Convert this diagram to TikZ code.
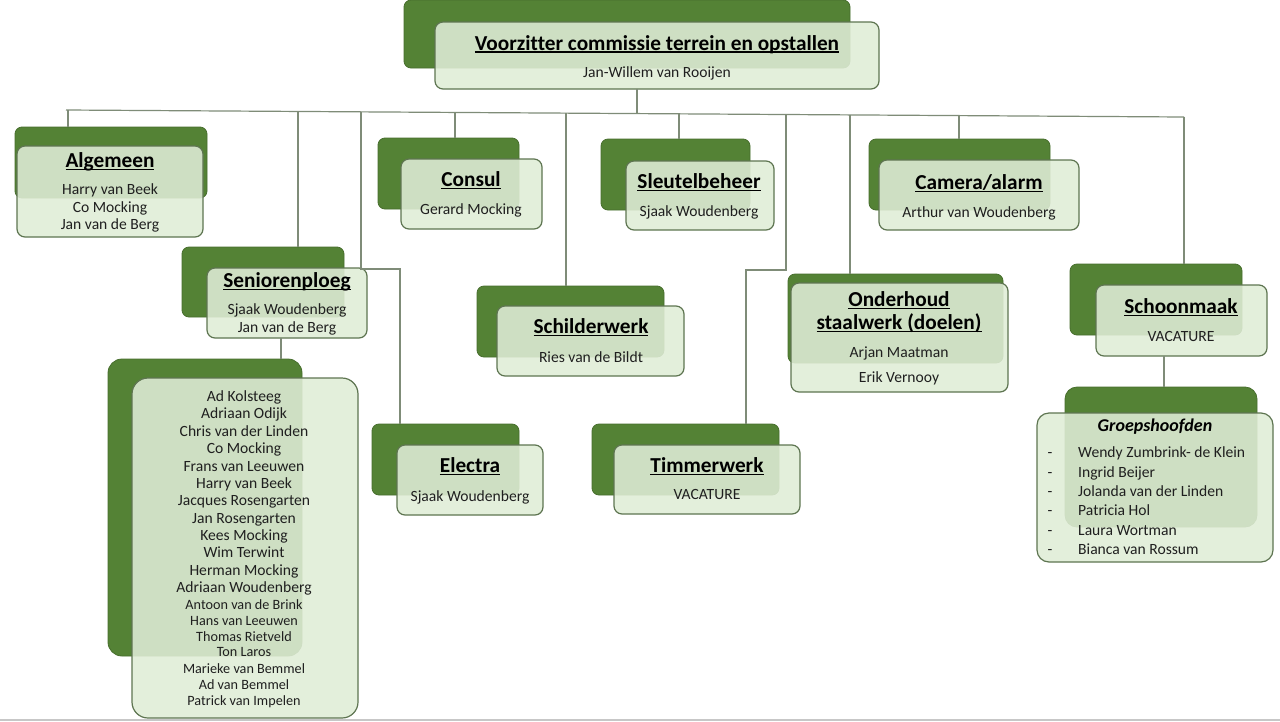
\documentclass[tikz,border=0pt]{standalone}
\usepackage{fontspec}
\setmainfont{Carlito}[Ligatures={NoCommon}]
\definecolor{dkgreen}{HTML}{548235}
\definecolor{ltgreen}{HTML}{E0EDD7}
\definecolor{bordergreen}{HTML}{5E7551}
\definecolor{linegray}{HTML}{7F8C78}
\definecolor{txtgray}{HTML}{1F1F1F}
\newcommand\ulword[1]{\setbox0\hbox{#1}\rlap{\rule[-2.6pt]{\wd0}{1.3pt}}\box0}
\tikzset{
  backbox/.style={fill=dkgreen, draw=dkgreen!85!black, line width=0.8pt, rounded corners=7pt, inner sep=0pt, outer sep=0pt, anchor=north west},
  frontbox/.style={fill=ltgreen, fill opacity=0.88, draw=bordergreen, line width=1.2pt, rounded corners=8pt, inner sep=0pt, outer sep=0pt, anchor=north west},
  ttl/.style={font=\fontsize{21.3}{24}\selectfont\bfseries, text=black, inner sep=0pt, anchor=base},
  nm/.style={font=\fontsize{15.6}{18}\selectfont, text=txtgray, inner sep=0pt, anchor=base},
  nms/.style={font=\fontsize{14.2}{17}\selectfont, text=txtgray, inner sep=0pt, anchor=base},
  conn/.style={draw=linegray, line width=1.2pt},
}
\begin{document}
\begin{tikzpicture}[x=1pt,y=-1pt]
\useasboundingbox (0,0) rectangle (1280,721);
\fill[white] (0,0) rectangle (1280,721);
\draw[draw=black!22, line width=1.5pt] (0,719.8) -- (1280,719.8);

% ---- connector points
\coordinate (busL) at (66,110);
\coordinate (busR) at (1184,117);
\coordinate (bAlg) at (68,110);
\coordinate (bSen) at (298,111.5);
\coordinate (bEle) at (361,111.8);
\coordinate (bCon) at (455,112.4);
\coordinate (bSch) at (566,113.1);
\coordinate (bTop) at (637,113.6);
\coordinate (bSlt) at (679,113.8);
\coordinate (bTim) at (786,114.5);
\coordinate (bOnd) at (850,114.9);
\coordinate (bCam) at (959,115.6);
\coordinate (eleK1) at (361,269);
\coordinate (eleK2) at (400,269);
\coordinate (timK1) at (786,270);
\coordinate (timK2) at (746,270);
\coordinate (lstC) at (281,0);
\coordinate (grpC) at (1164,0);

% ---- boxes
\node[backbox, minimum width=446, minimum height=68] (topB) at (404,0) {};
\node[frontbox, minimum width=444, minimum height=67] (topF) at (435,22) {};

\node[backbox, minimum width=192, minimum height=71] (algB) at (15,127) {};
\node[frontbox, minimum width=186, minimum height=91] (algF) at (17,146) {};

\node[backbox, minimum width=162, minimum height=70] (senB) at (182,247) {};
\node[frontbox, minimum width=160, minimum height=70] (senF) at (207,268) {};

\node[backbox, minimum width=194, minimum height=297, rounded corners=14pt] (lstB) at (108,359) {};
\node[frontbox, minimum width=226, minimum height=340, rounded corners=16pt] (lstF) at (132,378) {};

\node[backbox, minimum width=141, minimum height=71] (conB) at (378,138) {};
\node[frontbox, minimum width=141, minimum height=70] (conF) at (401,159) {};

\node[backbox, minimum width=149, minimum height=71] (sltB) at (601,139) {};
\node[frontbox, minimum width=148, minimum height=69] (sltF) at (626,161) {};

\node[backbox, minimum width=187, minimum height=71] (schB) at (477,286) {};
\node[frontbox, minimum width=187, minimum height=70] (schF) at (497,306) {};

\node[backbox, minimum width=147, minimum height=71] (eleB) at (372,424) {};
\node[frontbox, minimum width=146, minimum height=70] (eleF) at (397,445) {};

\node[backbox, minimum width=187, minimum height=71] (timB) at (592,424) {};
\node[frontbox, minimum width=186, minimum height=69] (timF) at (614,445) {};

\node[backbox, minimum width=181, minimum height=71] (camB) at (869,139) {};
\node[frontbox, minimum width=200, minimum height=70] (camF) at (879,160) {};

\node[backbox, minimum width=215, minimum height=89] (ondB) at (788,274) {};
\node[frontbox, minimum width=217, minimum height=109] (ondF) at (791,283) {};

\node[backbox, minimum width=172, minimum height=71] (scoB) at (1070,264) {};
\node[frontbox, minimum width=171, minimum height=71] (scoF) at (1096,285) {};

\node[backbox, minimum width=192, minimum height=140, rounded corners=12pt] (grpB) at (1065,387) {};
\node[frontbox, minimum width=236, minimum height=149, rounded corners=12pt] (grpF) at (1037,413) {};

% ---- connector lines
\draw[conn] (busL) -- (busR);
\draw[conn] (topF.south -| bTop) -- (bTop);
\draw[conn] (bAlg) -- (bAlg |- algB.north);
\draw[conn] (bSen) -- (bSen |- senB.north);
\draw[conn] (bEle) -- (eleK1) -- (eleK2) -- (eleK2 |- eleB.north);
\draw[conn] (bCon) -- (bCon |- conB.north);
\draw[conn] (bSch) -- (bSch |- schB.north);
\draw[conn] (bSlt) -- (bSlt |- sltB.north);
\draw[conn] (bTim) -- (timK1) -- (timK2) -- (timK2 |- timB.north);
\draw[conn] (bOnd) -- (bOnd |- ondB.north);
\draw[conn] (bCam) -- (bCam |- camB.north);
\draw[conn] (busR) -- (busR |- scoB.north);
\draw[conn] (lstC |- senF.south) -- (lstC |- lstB.north);
\draw[conn] (grpC |- scoF.south) -- (grpC |- grpB.north);

% ---- texts
\node[ttl] (topT) at (657,50) {\ulword{Voorzitter commissie terrein en opstallen}};
\node[nm] (topN) at (657,77) {Jan-Willem van Rooijen};

\node[ttl] (algT) at (110,167.5) {\ulword{Algemeen}};
\node[nm] (algN1) at (110,194) {Harry van Beek};
\node[nm] (algN2) at (110,212) {Co Mocking};
\node[nm] (algN3) at (110,229) {Jan van de Berg};

\node[ttl] (senT) at (287,287.5) {\ulword{Seniorenploeg}};
\node[nm] (senN1) at (287,314) {Sjaak Woudenberg};
\node[nm] (senN2) at (287,332) {Jan van de Berg};

\foreach \n/\yy [count=\i] in {Ad Kolsteeg/401, Adriaan Odijk/418, Chris van der Linden/436, Co Mocking/453, Frans van Leeuwen/471, Harry van Beek/488, Jacques Rosengarten/505, Jan Rosengarten/523, Kees Mocking/540, Wim Terwint/557, Herman Mocking/575, Adriaan Woudenberg/592}
  \node[nm] (lstA\i) at (244,\yy) {\n};
\foreach \n/\yy [count=\i] in {Antoon van de Brink/609, Hans van Leeuwen/625, Thomas Rietveld/641, Ton Laros/656, Marieke van Bemmel/673, Ad van Bemmel/689, Patrick van Impelen/705}
  \node[nms] (lstB\i) at (244,\yy) {\n};

\node[ttl] (conT) at (471,186.5) {\ulword{Consul}};
\node[nm] (conN) at (471,214) {Gerard Mocking};

\node[ttl] (sltT) at (699,188.5) {\ulword{Sleutelbeheer}};
\node[nm] (sltN) at (699,216) {Sjaak Woudenberg};

\node[ttl] (schT) at (591,333.5) {\ulword{Schilderwerk}};
\node[nm] (schN) at (591,362) {Ries van de Bildt};

\node[ttl] (eleT) at (470,472.5) {\ulword{Electra}};
\node[nm] (eleN) at (470,501) {Sjaak Woudenberg};

\node[ttl] (timT) at (707,472.5) {\ulword{Timmerwerk}};
\node[nm] (timN) at (707,499) {VACATURE};

\node[ttl] (camT) at (979,189.5) {\ulword{Camera/alarm}};
\node[nm] (camN) at (979,217) {Arthur van Woudenberg};

\node[ttl] (ondT1) at (899,306.5) {\ulword{Onderhoud}};
\node[ttl] (ondT2) at (899,329.5) {\ulword{staalwerk (doelen)}};
\node[nm] (ondN1) at (899,357) {Arjan Maatman};
\node[nm] (ondN2) at (899,382) {Erik Vernooy};

\node[ttl] (scoT) at (1181,313.5) {\ulword{Schoonmaak}};
\node[nm] (scoN) at (1181,341) {VACATURE};

\node[font=\fontsize{18}{21}\selectfont\bfseries\itshape, text=black, inner sep=0pt, anchor=base] (grpT) at (1155,431) {Groepshoofden};
\foreach \n/\yy [count=\i] in {Wendy Zumbrink- de Klein/457, Ingrid Beijer/477, Jolanda van der Linden/496, Patricia Hol/515, Laura Wortman/535, Bianca van Rossum/554}{
  \node[nm, anchor=base] (grpD\i) at (1050,\yy) {-};
  \node[nm, anchor=base west] (grpN\i) at (1078,\yy) {\n};
}
\end{tikzpicture}
\end{document}
